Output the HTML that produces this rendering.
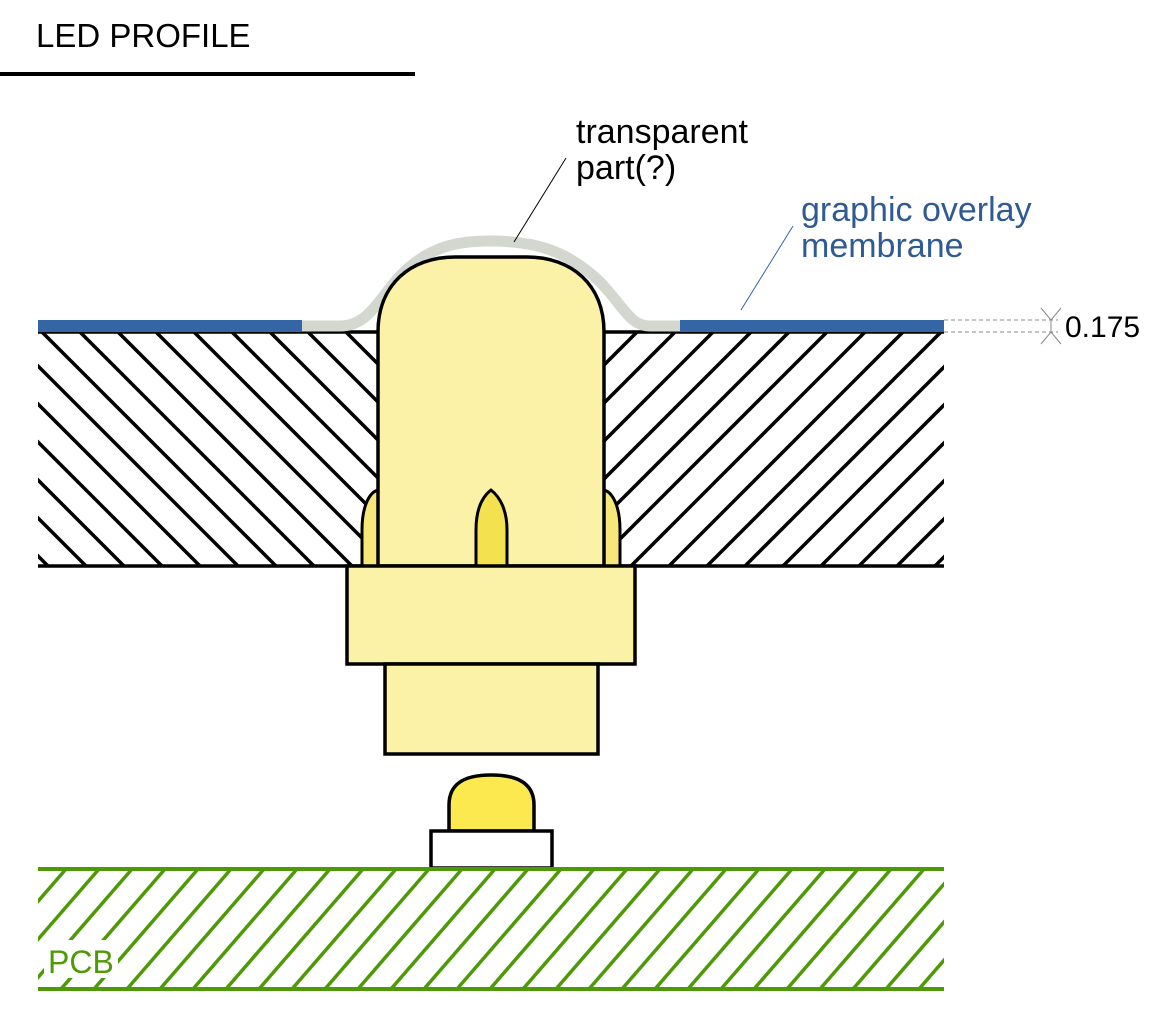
<!DOCTYPE html>
<html><head><meta charset="utf-8">
<style>
html,body{margin:0;padding:0;background:#fff;}
svg{display:block;}
text{font-family:"Liberation Sans",sans-serif;}
</style></head>
<body>
<svg id="s" width="1172" height="1020" viewBox="0 0 1172 1020" xmlns="http://www.w3.org/2000/svg">
<defs>
<clipPath id="clipL"><rect x="38" y="332" width="340" height="234"/></clipPath>
<clipPath id="clipR"><rect x="604" y="332" width="340" height="234"/></clipPath>
<clipPath id="clipP"><rect x="38" y="869" width="906" height="120"/></clipPath>
</defs>

<text x="36" y="47" font-size="33" fill="#000">LED PROFILE</text>
<rect x="0" y="72" width="415" height="4" fill="#000"/>

<g id="hatchL" clip-path="url(#clipL)" stroke="#000" stroke-width="3.5"></g>
<g id="hatchR" clip-path="url(#clipR)" stroke="#000" stroke-width="3.5"></g>
<line x1="38" y1="332" x2="944" y2="332" stroke="#000" stroke-width="3.5"/>
<line x1="38" y1="566" x2="944" y2="566" stroke="#000" stroke-width="3.5"/>

<rect x="38" y="320" width="264" height="12" fill="#3465a4"/>
<rect x="680" y="320" width="264" height="12" fill="#3465a4"/>
<path d="M302 326 L340 326 C368 326 378 300 400 276 C430 245 460 241 490 241 C530 241 565 248 600 282 C625 308 630 326 650 326 L680 326" fill="none" stroke="#d3d7cf" stroke-width="11"/>

<path d="M362 566 L362 530 C362 505 370 492 378 490 L378 566 Z" fill="#f5e77a" stroke="#000" stroke-width="3"/>
<path d="M620 566 L620 530 C620 505 612 492 604 490 L604 566 Z" fill="#f5e77a" stroke="#000" stroke-width="3"/>

<path d="M378 566 L378 332 C378 285 410 257 455 257 L527 257 C572 257 604 285 604 332 L604 566 Z" fill="#fbf2a8" stroke="#000" stroke-width="3.5"/>
<path d="M476 566 L476 530 C476 510 482 497 491 490 C500 497 507 510 507 530 L507 566 Z" fill="#f3e150" stroke="#000" stroke-width="3"/>

<rect x="347" y="566" width="288" height="98" fill="#fbf2a8" stroke="#000" stroke-width="3.5"/>
<rect x="385" y="664" width="213" height="90" fill="#fbf2a8" stroke="#000" stroke-width="3.5"/>

<path d="M449 831 L449 805 C449 783 465 775 491 775 C517 775 534 783 534 805 L534 831 Z" fill="#fce94f" stroke="#000" stroke-width="3.5"/>
<rect x="431" y="831" width="121" height="37" fill="#fff" stroke="#000" stroke-width="3.5"/>

<g id="hatchP" clip-path="url(#clipP)" stroke="#4e9a06" stroke-width="3.5"></g>
<line x1="38" y1="869" x2="944" y2="869" stroke="#4e9a06" stroke-width="4"/>
<line x1="38" y1="989" x2="944" y2="989" stroke="#4e9a06" stroke-width="4"/>
<rect x="44" y="940" width="74" height="38" fill="#fff"/>
<text x="48" y="973" font-size="32" fill="#4e9a06">PCB</text>

<line x1="566" y1="158" x2="514" y2="242" stroke="#000" stroke-width="1"/>
<text x="576" y="143" font-size="34" fill="#000">transparent</text>
<text x="576" y="179" font-size="34" fill="#000">part(?)</text>

<line x1="793" y1="226" x2="741" y2="310" stroke="#3465a4" stroke-width="1"/>
<text x="801" y="221" font-size="34" fill="#2f5a94">graphic overlay</text>
<text x="801" y="257" font-size="34" fill="#2f5a94">membrane</text>

<g stroke="#888" stroke-width="1" fill="none">
<line x1="944" y1="320" x2="1058" y2="320" stroke-dasharray="4,3"/>
<line x1="944" y1="332" x2="1058" y2="332" stroke-dasharray="4,3"/>
<line x1="1051" y1="320" x2="1051" y2="332"/>
<path d="M1041 308 L1051 320 L1061 308 M1041 344 L1051 332 L1061 344"/>
</g>
<text x="1065" y="337" font-size="30" fill="#000">0.175</text>
</svg>
<script>
var NS='http://www.w3.org/2000/svg';
function ln(g,x1,y1,x2,y2){var l=document.createElementNS(NS,'line');
l.setAttribute('x1',x1);l.setAttribute('y1',y1);l.setAttribute('x2',x2);l.setAttribute('y2',y2);


g.appendChild(l);}
var gL=document.getElementById('hatchL');
for(var x=42-380;x<400;x+=38){ln(gL,x,332,x+300,632);}
var gR=document.getElementById('hatchR');
for(var x2=637-38*2;x2<1300;x2+=38){ln(gR,x2,332,x2-300,632);}
var gP=document.getElementById('hatchP');
for(var x3=68-200;x3<1100;x3+=33){ln(gP,x3,869,x3-104,989);}
</script>
</body></html>
